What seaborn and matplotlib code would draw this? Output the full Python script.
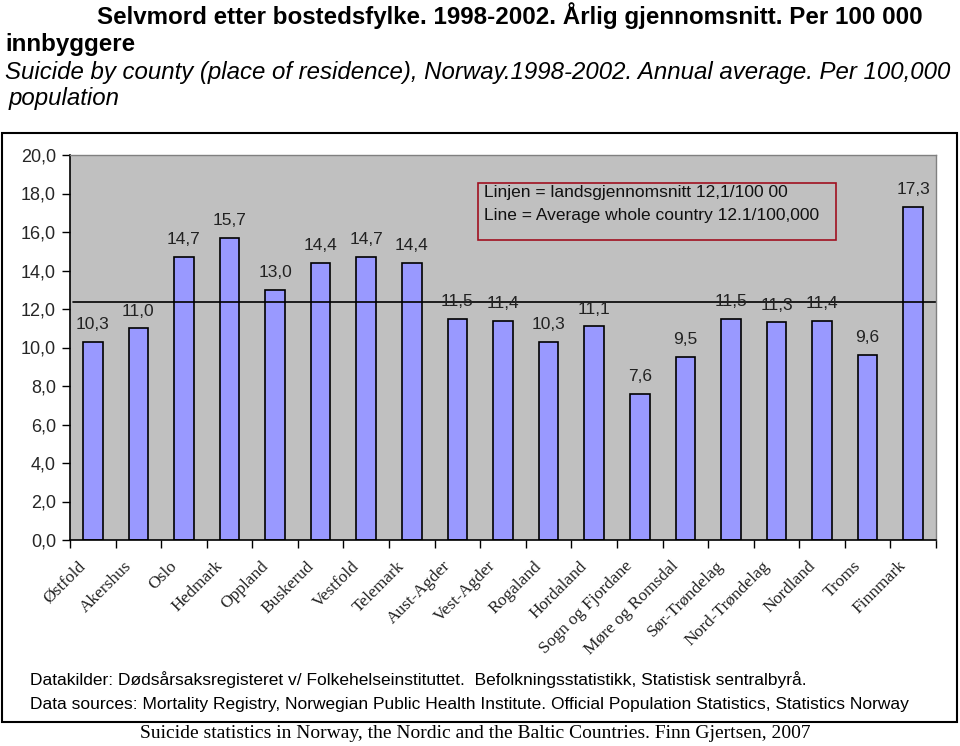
import matplotlib
matplotlib.use("Agg")
import matplotlib.pyplot as plt
import matplotlib.transforms as mtransforms
from matplotlib.patches import Rectangle
import seaborn as sns

# Data
counties = ["Østfold", "Akershus", "Oslo", "Hedmark", "Oppland", "Buskerud",
            "Vestfold", "Telemark", "Aust-Agder", "Vest-Agder", "Rogaland",
            "Hordaland", "Sogn og Fjordane", "Møre og Romsdal", "Sør-Trøndelag",
            "Nord-Trøndelag", "Nordland", "Troms", "Finnmark"]
rates = [10.3, 11.0, 14.7, 15.7, 13.0, 14.4, 14.7, 14.4, 11.5, 11.4, 10.3,
         11.1, 7.6, 9.5, 11.5, 11.3, 11.4, 9.6, 17.3]
national_avg = 12.35
y_ticks = [0, 2, 4, 6, 8, 10, 12, 14, 16, 18, 20]

sns.set_style("white")
plt.rcParams["font.family"] = ["Liberation Sans", "DejaVu Sans"]
serif = ["Liberation Serif", "DejaVu Serif"]

W, H = 960, 746
fig = plt.figure(figsize=(W / 100, H / 100), dpi=100)


def fx(px):
    return px / W


def fy(py):
    return 1 - py / H


ax = fig.add_axes([fx(70), fy(540), fx(936) - fx(70), fy(155) - fy(540)])
ax.set_facecolor("#C0C0C0")

sns.barplot(x=counties, y=rates, color="#9999FF", saturation=1,
            edgecolor="black", linewidth=1.2, width=0.43, ax=ax)

# etiketter over søylene
ax.bar_label(ax.containers[0], labels=[f"{v:.1f}".replace(".", ",") for v in rates],
             padding=7, fontsize=12.5, color="#222222")

ax.axhline(national_avg, xmin=0.004, xmax=1, color="black", linewidth=1.2)

ax.set_ylim(0, 20)
ax.set_xlim(-0.5, len(counties) - 0.5)
ax.set_yticks(y_ticks)
ax.set_yticklabels([f"{t:.1f}".replace(".", ",") for t in y_ticks], fontsize=13)
ax.tick_params(axis="y", direction="out", length=6, width=1, color="black", left=True, pad=4)

ax.set_xticks(range(len(counties)))
ax.set_xticklabels(counties, rotation=45, ha="right", va="top", rotation_mode="anchor",
                   fontsize=12.5, family=serif, color="#222222")
ax.tick_params(axis="x", which="major", length=0, pad=13)
shift = mtransforms.ScaledTranslation(-15 / 100, 0, fig.dpi_scale_trans)
for lbl in ax.get_xticklabels():
    lbl.set_transform(lbl.get_transform() + shift)
ax.set_xticks([i - 0.5 for i in range(len(counties) + 1)], minor=True)
ax.tick_params(axis="x", which="minor", direction="out", length=6, width=1,
               color="black", bottom=True)
ax.set_xlabel("")
ax.set_ylabel("")

for side in ["left", "bottom"]:
    ax.spines[side].set_color("black")
    ax.spines[side].set_linewidth(1.2)
for side in ["top", "right"]:
    ax.spines[side].set_color("#808080")
    ax.spines[side].set_linewidth(1)

# forklaringsboks
ax.add_patch(Rectangle((fx(478), fy(240)), fx(836) - fx(478), fy(183) - fy(240),
                       transform=fig.transFigure, fill=False, edgecolor="#A01020",
                       linewidth=1.2, zorder=5))
fig.text(fx(484), fy(193), "Linjen = landsgjennomsnitt 12,1/100 00",
         fontsize=12.5, va="center", ha="left", color="#111111")
fig.text(fx(484), fy(215), "Line = Average whole country 12.1/100,000",
         fontsize=12.5, va="center", ha="left", color="#111111")

# titler
fig.text(fx(97), fy(16), "Selvmord etter bostedsfylke. 1998-2002. Årlig gjennomsnitt. Per 100 000",
         fontsize=17.4, fontweight="bold", va="center", ha="left", color="black")
fig.text(fx(5), fy(44), "innbyggere", fontsize=17.4, fontweight="bold", va="center", ha="left",
         color="black")
fig.text(fx(5), fy(72), "Suicide by county (place of residence), Norway.1998-2002. Annual average. Per 100,000",
         fontsize=17.3, style="italic", va="center", ha="left", color="black")
fig.text(fx(9), fy(98), "population", fontsize=17.3, style="italic", va="center", ha="left",
         color="black")

# ramme rundt figuren
fig.patches.append(Rectangle((fx(2), fy(722)), fx(957) - fx(2), fy(133) - fy(722),
                             transform=fig.transFigure, fill=False, edgecolor="black",
                             linewidth=1.5))

# kilder
fig.text(fx(30), fy(680),
         "Datakilder: Dødsårsaksregisteret v/ Folkehelseinstituttet.  Befolkningsstatistikk, Statistisk sentralbyrå.",
         fontsize=12.5, va="center", ha="left", color="black")
fig.text(fx(30), fy(704),
         "Data sources: Mortality Registry, Norwegian Public Health Institute. Official Population Statistics, Statistics Norway",
         fontsize=12.5, va="center", ha="left", color="black")

fig.text(fx(475), fy(734),
         "Suicide statistics in Norway, the Nordic and the Baltic Countries. Finn Gjertsen, 2007",
         fontsize=14, family=serif, va="center", ha="center", color="black")

fig.savefig("out.png", dpi=100)
